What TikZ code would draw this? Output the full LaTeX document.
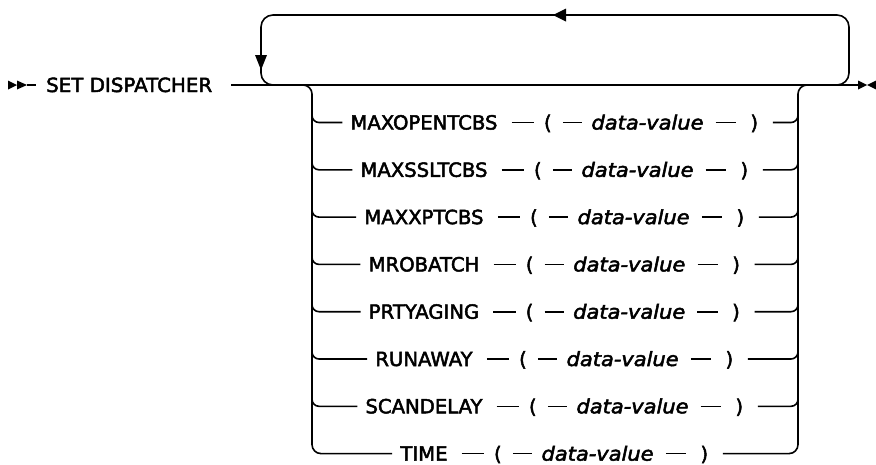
\documentclass[tikz,border=0pt]{standalone}
\usepackage{fontspec}
\usepackage{graphicx}
\setmainfont{DejaVu Sans}
\newfontfamily\railfont{DejaVu Sans}[FakeBold=2.5]
\newfontfamily\railit{DejaVu Sans Oblique}[FakeBold=2.5]
\usetikzlibrary{matrix,calc}
\newlength\tmpw
\tikzset{
  rail/.style={line width=1.6pt, line cap=butt},
  tok/.style={inner xsep=0pt, inner ysep=0pt, text height=14pt, text depth=0pt,
    font=\fontsize{19.5}{23}\railfont},
  rowmat/.style={matrix of nodes, column sep=0pt, inner sep=0pt,
    nodes={tok}, anchor=center, ampersand replacement=\&},
  d1/.style={rail, shorten <=14pt, shorten >=9.5pt},
  d2/.style={rail, shorten <=11pt, shorten >=9pt},
  d3/.style={rail, shorten <=12pt, shorten >=14pt},
}
\newcommand{\dv}{\resizebox{112pt}{\height}{\railit data-value}}
\newcommand{\kwsc}[1]{\scalebox{\kwfac}[1]{#1}}
\begin{document}
\settowidth{\tmpw}{\fontsize{19.5}{23}\railfont MAXOPENTCBS}%
\pgfmathsetmacro{\kwfac}{147/\tmpw}%
\settowidth{\tmpw}{\fontsize{19.5}{23}\railfont SET DISPATCHER}%
\pgfmathsetmacro{\tifac}{166/\tmpw}%
\begin{tikzpicture}[x=1pt,y=-1pt]
\useasboundingbox (0,0) rectangle (876,464);
% start marker
\fill (8,80.5) -- (17,85) -- (8,89.5) -- cycle;
\fill (17,80.5) -- (27,85) -- (17,89.5) -- cycle;
\coordinate (st) at (27,85);
\node[tok, anchor=west] (title) at (46,85) {\scalebox{\tifac}[1]{SET DISPATCHER}};
\coordinate (en) at (858,85);
\draw[rail] (st) -- ([xshift=-10pt]title.west);
\draw[rail] ([xshift=19pt]title.east) -- (en);
% end marker
\fill (858,80.5) -- (867,85) -- (858,89.5) -- cycle;
\fill (876,80.5) -- (867,85) -- (876,89.5) -- cycle;
% repeat loop
\coordinate (lpL) at (261,85);
\coordinate (lpR) at (849,85);
\draw[rail, rounded corners=12pt] (282,85) -- (lpL) -- (261,15) -- (849,15) -- (lpR) -- (828,85);
\fill (255,55) -- (267,55) -- (261,70) -- cycle;
\fill (566,8.5) -- (566,21.5) -- (553,15) -- cycle;
% rows
\foreach \i/\kword [count=\k from 0] in {1/MAXOPENTCBS,2/MAXSSLTCBS,3/MAXXPTCBS,4/MROBATCH,5/PRTYAGING,6/RUNAWAY,7/SCANDELAY,8/TIME}{
  \pgfmathsetmacro{\yy}{122.5+47.3*\k}
  \matrix[rowmat] (r\i) at (554.3,\yy) {\kwsc{\kword} \&[46.5pt] ( \&[39.9pt] \dv \&[47pt] ) \\};
  \draw[d1] (r\i-1-1.east) -- (r\i-1-2.west);
  \draw[d2] (r\i-1-2.east) -- (r\i-1-3.west);
  \draw[d3] (r\i-1-3.east) -- (r\i-1-4.west);
}
\coordinate (jL) at (312,85);
\coordinate (jR) at (798,85);
\draw[rail, rounded corners=9pt] (298,85) -- (jL) -- (r8-1-1.west -| jL) -- ([xshift=-8pt]r8-1-1.west);
\draw[rail, rounded corners=9pt] ([xshift=14.5pt]r8-1-4.east) -| (jR) -- (812,85);
\foreach \i in {1,...,7}{
  \draw[rail, rounded corners=7pt] ($(r\i-1-1.west -| jL)+(0,-14)$) |- ([xshift=-8pt]r\i-1-1.west);
  \draw[rail, rounded corners=7pt] ([xshift=14.5pt]r\i-1-4.east) -| ($(r\i-1-4.east -| jR)+(0,-14)$);
}
\end{tikzpicture}
\end{document}
